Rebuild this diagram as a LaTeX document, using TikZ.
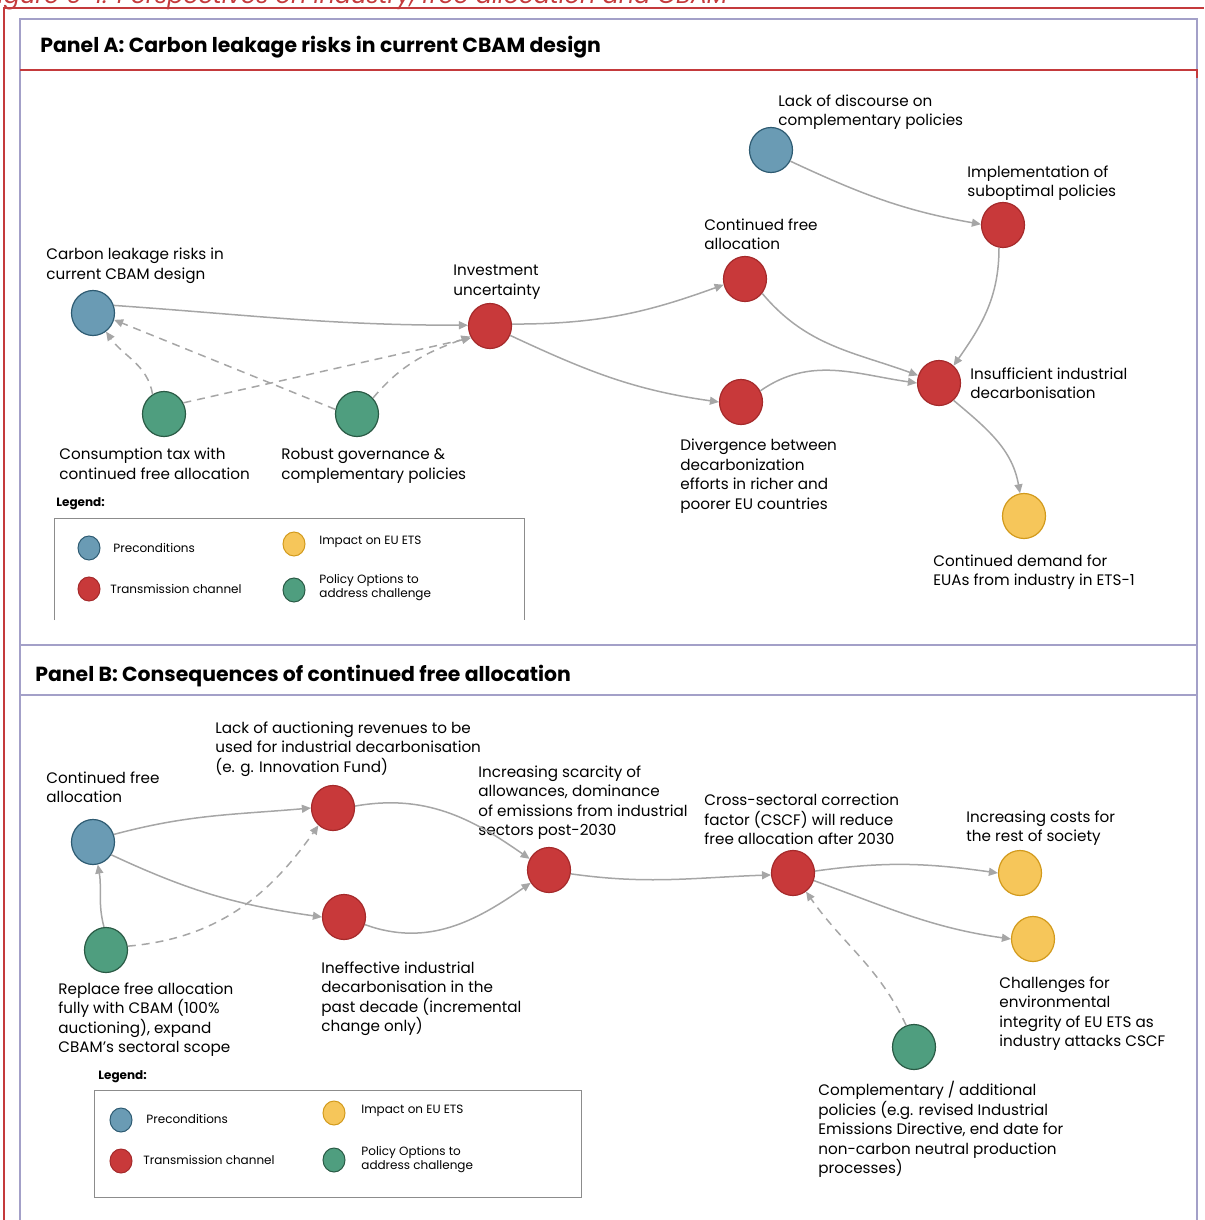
\documentclass[tikz,border=0pt]{standalone}
\usepackage{fontspec}
\setmainfont{Poppins}
\usetikzlibrary{arrows.meta,shapes.geometric}
\definecolor{panelline}{HTML}{A3A0C8}
\definecolor{figred}{HTML}{C43A3C}
\definecolor{pblue}{HTML}{6A9BB4}
\definecolor{pblueD}{HTML}{2E5B72}
\definecolor{pred}{HTML}{C8393A}
\definecolor{predD}{HTML}{A52A2B}
\definecolor{pgreen}{HTML}{4F9E7F}
\definecolor{pgreenD}{HTML}{2A5A45}
\definecolor{pyellow}{HTML}{F6C65A}
\definecolor{pyellowD}{HTML}{D29A1C}
\definecolor{arrgray}{HTML}{A6A6A6}
\definecolor{leggray}{HTML}{8C8C8C}
\tikzset{
  dot/.style={ellipse, minimum width=21.5pt, minimum height=22.5pt, inner sep=0pt, line width=0.6pt},
  pre/.style={dot, fill=pblue, draw=pblueD},
  tra/.style={dot, fill=pred, draw=predD},
  imp/.style={dot, fill=pyellow, draw=pyellowD},
  pol/.style={dot, fill=pgreen, draw=pgreenD},
  ldot/.style={ellipse, minimum width=11pt, minimum height=12pt, inner sep=0pt, line width=0.5pt},
  lbl/.style={anchor=north west, inner sep=0pt, align=left, font=\fontsize{7.6}{9.75}\selectfont},
  legtxt/.style={anchor=west, inner sep=0pt, align=left, font=\fontsize{6}{7}\selectfont},
  legtitle/.style={anchor=west, inner sep=0pt, font=\fontsize{6}{7}\selectfont\bfseries},
  ptitle/.style={anchor=west, inner sep=0pt, font=\fontsize{10.2}{12}\selectfont\bfseries},
  conn/.style={draw=arrgray, line width=0.75pt, -{Triangle[length=4.5pt,width=4pt]}},
  dconn/.style={conn, dash pattern=on 4pt off 3pt},
  pline/.style={draw=panelline, line width=1pt},
  rline/.style={draw=figred, line width=1pt},
}
\begin{document}
\begin{tikzpicture}[x=0.5pt,y=0.5pt]
\useasboundingbox (0,0) rectangle (1204,-1220);
% caption (cut off at top)
\node[anchor=base east, inner sep=0pt, text=figred, font=\fontsize{12}{14}\selectfont\itshape] (cap) at (728,-4) {Figure 6-1: Perspectives on industry, free allocation and CBAM};
% frames
\draw[rline] (4,-1220) -- (4,-8) -- (1204,-8);
\draw[pline] (20,-1220) -- (20,-19) -- (1197,-19) -- (1197,-1220);
\draw[rline] (20,-70) -- (1197,-70) -- (1197,-78);
\draw[pline] (20,-645) -- (1197,-645);
\draw[pline] (20,-695) -- (1197,-695);
\node[ptitle] (ta) at (40,-47) {Panel A: Carbon leakage risks in current CBAM design};
\node[ptitle] (tb) at (35,-676) {Panel B: Consequences of continued free allocation};

% ---------- Panel A nodes ----------
\node[pre] (Acl) at (93,-313) {};
\node[tra] (Ainv) at (490,-326) {};
\node[pol] (Acons) at (164,-414) {};
\node[pol] (Arob) at (357,-414) {};
\node[pre] (Alack) at (771,-150) {};
\node[tra] (Aimpl) at (1003,-225) {};
\node[tra] (Acfa) at (745,-279) {};
\node[tra] (Adiv) at (741,-402) {};
\node[tra] (Ains) at (939,-383) {};
\node[imp] (Adem) at (1024,-516) {};

\node[lbl] (LAcl) at (46,-248) {Carbon leakage risks in\\current CBAM design};
\node[lbl] (LAinv) at (453,-265) {Investment\\uncertainty};
\node[lbl] (LAcons) at (59,-448) {Consumption tax with\\continued free allocation};
\node[lbl] (LArob) at (281,-448) {Robust governance \&\\complementary policies};
\node[lbl] (LAlack) at (778,-94) {Lack of discourse on\\complementary policies};
\node[lbl] (LAimpl) at (967,-165) {Implementation of\\suboptimal policies};
\node[lbl] (LAcfa) at (704,-218) {Continued free\\allocation};
\node[lbl] (LAdiv) at (680,-439) {Divergence between\\decarbonization\\efforts in richer and\\poorer EU countries};
\node[lbl] (LAins) at (970,-367) {Insufficient industrial\\decarbonisation};
\node[lbl] (LAdem) at (933,-554) {Continued demand for\\EUAs from industry in ETS-1};

% Panel A connectors
\draw[conn] (Acl.20) to[out=-4,in=180] (Ainv.178);
\draw[dconn] (Acons.120) to[out=100,in=-55] (Acl.-55);
\draw[dconn] (Acons.30) -- (Ainv.212);
\draw[dconn] (Arob.168) -- (Acl.-18);
\draw[dconn] (Arob.45) to[out=50,in=200] (Ainv.208);
\draw[conn] (Ainv.5) to[out=0,in=200] (Acfa.195);
\draw[conn] (Ainv.-25) to[out=-25,in=172] (Adiv.180);
\draw[conn] (Alack.-30) to[out=-25,in=170] (Aimpl.178);
\draw[conn] (Acfa.-40) to[out=-50,in=160] (Ains.160);
\draw[conn] (Aimpl.-100) to[out=-90,in=55] (Ains.50);
\draw[conn] (Adiv.30) to[out=35,in=172] (Ains.180);
\draw[conn] (Ains.-50) to[out=-40,in=100] (Adem.100);

% Panel A legend
\node[legtitle] (LgA) at (56,-504) {Legend:};
\draw[draw=leggray, line width=0.5pt] (54,-620) -- (54,-518) -- (524,-518) -- (524,-620);
\node[ldot, fill=pblue, draw=pblueD] (lA1) at (89,-548) {};
\node[legtxt] (lA1t) at (113,-548) {Preconditions};
\node[ldot, fill=pred, draw=predD] (lA2) at (89,-589) {};
\node[legtxt] (lA2t) at (110,-589) {Transmission channel};
\node[ldot, fill=pyellow, draw=pyellowD] (lA3) at (294,-544) {};
\node[legtxt] (lA3t) at (319,-542) {Impact on EU ETS};
\node[ldot, fill=pgreen, draw=pgreenD] (lA4) at (294,-590) {};
\node[legtxt] (lA4t) at (319,-588) {Policy Options to\\address challenge};

% ---------- Panel B nodes ----------
\node[pre] (Bcfa) at (93,-842) {};
\node[tra] (Black) at (333,-808) {};
\node[tra] (Bineff) at (344,-917) {};
\node[pol] (Brepl) at (106,-950) {};
\node[tra] (Bscar) at (549,-870) {};
\node[tra] (Bcscf) at (793,-873) {};
\node[imp] (Bcost) at (1020,-873) {};
\node[imp] (Bchal) at (1033,-939) {};
\node[pol] (Bcomp) at (914,-1047) {};

\node[lbl] (LBcfa) at (46,-771) {Continued free\\allocation};
\node[lbl] (LBlack) at (215,-721) {Lack of auctioning revenues to be\\used for industrial decarbonisation\\(e. g. Innovation Fund)};
\node[lbl] (LBscar) at (478,-765) {Increasing scarcity of\\allowances, dominance\\of emissions from industrial\\sectors post-2030};
\node[lbl] (LBcscf) at (704,-794) {Cross-sectoral correction\\factor (CSCF) will reduce\\free allocation after 2030};
\node[lbl] (LBcost) at (966,-810) {Increasing costs for\\the rest of society};
\node[lbl] (LBchal) at (999,-976) {Challenges for\\environmental\\integrity of EU ETS as\\industry attacks CSCF};
\node[lbl] (LBrepl) at (58,-982) {Replace free allocation\\fully with CBAM (100\%\\auctioning), expand\\CBAM’s sectoral scope};
\node[lbl] (LBineff) at (321,-961) {Ineffective industrial\\decarbonisation in the\\past decade (incremental\\change only)};
\node[lbl] (LBcomp) at (818,-1081) {Complementary / additional\\policies (e.g. revised Industrial\\Emissions Directive, end date for\\non-carbon neutral production\\processes)};

% Panel B connectors
\draw[conn] (Bcfa.20) to[out=15,in=185] (Black.180);
\draw[conn] (Bcfa.-35) to[out=-25,in=172] (Bineff.180);
\draw[conn] (Brepl.95) to[out=105,in=-80] (Bcfa.-78);
\draw[dconn] (Brepl.10) to[out=5,in=-125] (Black.-130);
\draw[conn] (Black.5) to[out=10,in=145] (Bscar.150);
\draw[conn] (Bineff.-20) to[out=-20,in=215] (Bscar.215);
\draw[conn] (Bscar.-10) to[out=-8,in=182] (Bcscf.185);
\draw[conn] (Bcscf.5) to[out=8,in=172] (Bcost.180);
\draw[conn] (Bcscf.-20) to[out=-20,in=172] (Bchal.180);
\draw[dconn] (Bcomp.110) to[out=115,in=-55] (Bcscf.-55);

% Panel B legend
\node[legtitle] (LgB) at (98,-1077) {Legend:};
\draw[draw=leggray, line width=0.5pt] (94,-1090) rectangle (581,-1197);
\node[ldot, fill=pblue, draw=pblueD] (lB1) at (121,-1120) {};
\node[legtxt] (lB1t) at (146,-1119) {Preconditions};
\node[ldot, fill=pred, draw=predD] (lB2) at (121,-1161) {};
\node[legtxt] (lB2t) at (143,-1160) {Transmission channel};
\node[ldot, fill=pyellow, draw=pyellowD] (lB3) at (334,-1113) {};
\node[legtxt] (lB3t) at (361,-1111) {Impact on EU ETS};
\node[ldot, fill=pgreen, draw=pgreenD] (lB4) at (334,-1160) {};
\node[legtxt] (lB4t) at (361,-1160) {Policy Options to\\address challenge};
\end{tikzpicture}
\end{document}
